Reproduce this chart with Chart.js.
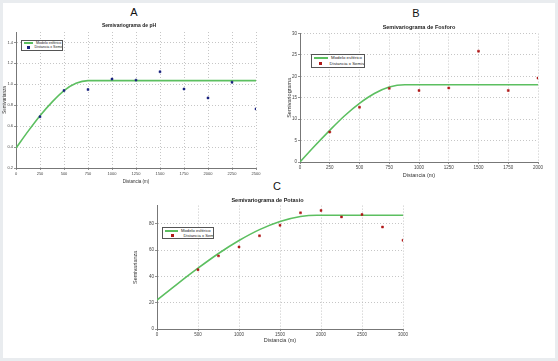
<!DOCTYPE html>
<html><head><meta charset="utf-8">
<script src="https://cdn.jsdelivr.net/npm/chart.js@4.4.1/dist/chart.umd.min.js"></script>
<style>
html,body{margin:0;padding:0;}
body{width:558px;height:361px;background:#e9ecef;position:relative;overflow:hidden;font-family:"Liberation Sans",Arial,sans-serif;}
#paper{position:absolute;left:3px;top:3px;width:552px;height:355px;background:#fff;}
canvas{position:absolute;}
.letter{position:absolute;font-size:11px;color:#111;transform:translateX(-50%);}
.leg{position:absolute;border:1px solid #555;background:#fff;color:#222;box-sizing:border-box;padding:0 2px;overflow:hidden;}
.leg div{display:flex;align-items:center;white-space:nowrap;}
.leg .ln{display:inline-block;flex-shrink:0;height:2px;background:#5cbf60;margin-right:3px;}
.leg .pt{display:inline-block;flex-shrink:0;width:2.5px;height:2.5px;}
</style></head>
<body>
<div id="paper"></div>
<div class="letter" style="left:134px;top:6px">A</div>
<div class="letter" style="left:416px;top:7px">B</div>
<div class="letter" style="left:277px;top:180px">C</div>
<canvas id="cA" width="265" height="165" style="left:0;top:20px"></canvas>
<canvas id="cB" width="280" height="160" style="left:272px;top:20px"></canvas>
<canvas id="cC" width="290" height="150" style="left:128px;top:195px"></canvas>
<div class="leg" style="left:21px;top:40px;width:42px;height:11px;font-size:3.6px;line-height:4.4px">
 <div><span class="ln" style="width:9px"></span>Modelo esférico</div>
 <div><span class="pt" style="background:#1a237e;margin:0 5px 0 3px"></span>Distancia x Semiv.</div>
</div>
<div class="leg" style="left:311px;top:54px;width:54px;height:14px;font-size:4.4px;line-height:5.8px">
 <div><span class="ln" style="width:14px"></span>Modelo esférico</div>
 <div><span class="pt" style="background:#b01818;margin:0 8px 0 5px"></span>Distancia x Semiv.</div>
</div>
<div class="leg" style="left:162px;top:227px;width:52px;height:12px;font-size:4.2px;line-height:5px">
 <div><span class="ln" style="width:13px"></span>Modelo esférico</div>
 <div><span class="pt" style="background:#b01818;margin:0 10px 0 6px"></span>Distancia x Semiv.</div>
</div>
<script>
// ---- Chart A: pH ----
const distA = [250, 500, 750, 1000, 1250, 1500, 1750, 2000, 2250, 2500];
const semivA = [0.69, 0.94, 0.95, 1.05, 1.04, 1.12, 0.955, 0.87, 1.02, 0.765];
const modelXA = [0, 125, 250, 375, 500, 625, 750, 2500];
const modelYA = [0.39, 0.55, 0.70, 0.83, 0.94, 1.01, 1.035, 1.035];
const xTicksA = [0, 250, 500, 750, 1000, 1250, 1500, 1750, 2000, 2250, 2500];
const yTicksA = [0.2, 0.4, 0.6, 0.8, 1.0, 1.2, 1.4];

// ---- Chart B: Fosforo ----
const distB = [250, 500, 750, 1000, 1250, 1500, 1750, 2000];
const semivB = [7.0, 12.8, 17.2, 16.7, 17.3, 25.9, 16.7, 19.6];
const modelXB = [0, 125, 250, 375, 500, 625, 750, 880, 2000];
const modelYB = [0, 3.8, 7.4, 10.8, 13.7, 16.0, 17.5, 18.05, 18.05];
const xTicksB = [0, 250, 500, 750, 1000, 1250, 1500, 1750, 2000];
const yTicksB = [0, 5, 10, 15, 20, 25, 30];

// ---- Chart C: Potasio ----
const distC = [500, 750, 1000, 1250, 1500, 1750, 2000, 2250, 2500, 2750, 3000];
const semivC = [45.2, 55.7, 62.5, 71.0, 79.0, 88.5, 90.3, 85.4, 87.2, 77.7, 67.6];
const modelXC = [0, 250, 500, 750, 1000, 1250, 1500, 1750, 1950, 3000];
const modelYC = [22, 34.4, 46.3, 57.5, 67.4, 75.7, 81.9, 85.7, 86.7, 86.7];
const xTicksC = [0, 500, 1000, 1500, 2000, 2500, 3000];
const yTicksC = [0, 20, 40, 60, 80];

const GREEN = '#5cbf60';

function makeChart(id, cfg) {
  const pts = (xs, ys) => xs.map((x, i) => ({x: x, y: ys[i]}));
  const tickFont = {size: cfg.tickSize, family: 'Liberation Sans'};
  const gridCommon = {color: '#b8b8b8', lineWidth: 0.8, tickLength: 2, tickColor: '#777'};
  return new Chart(document.getElementById(id), {
    type: 'scatter',
    data: {
      datasets: [
        {type: 'line', data: pts(cfg.mx, cfg.my), borderColor: GREEN, borderWidth: 1.6,
         pointRadius: 0, cubicInterpolationMode: 'monotone', fill: false, order: 2},
        {data: pts(cfg.px, cfg.py), pointStyle: 'rect', pointRadius: 1.4,
         backgroundColor: cfg.ptColor, borderColor: cfg.ptColor, borderWidth: 0.5, order: 1}
      ]
    },
    options: {
      responsive: false, animation: false, devicePixelRatio: 1,
      layout: {padding: cfg.pad},
      plugins: {
        legend: {display: false}, tooltip: {enabled: false},
        title: {display: true, text: cfg.title, color: '#222', fullSize: cfg.fullTitle,
                font: {size: cfg.titleSize, weight: 'bold', family: 'Liberation Sans'},
                padding: cfg.titlePad}
      },
      scales: {
        x: {type: 'linear', min: cfg.xmin, max: cfg.xmax,
            afterBuildTicks: s => { s.ticks = cfg.xt.map(v => ({value: v})); },
            afterFit: s => { s.height = cfg.xh; },
            ticks: {font: tickFont, color: '#444', padding: 1, maxRotation: 0, autoSkip: false,
                    callback: v => String(v)},
            grid: gridCommon,
            border: {display: true, color: '#777', width: 1, dash: [1, 2]},
            title: {display: true, text: 'Distancia (m)', color: '#333',
                    font: {size: cfg.axTitleSize, family: 'Liberation Sans'}, padding: {top: 0, bottom: 0}}},
        y: {type: 'linear', min: cfg.ymin, max: cfg.ymax,
            afterBuildTicks: s => { s.ticks = cfg.yt.map(v => ({value: v})); },
            afterFit: s => { s.width = cfg.yw; },
            ticks: {font: tickFont, color: '#444', padding: 1, callback: cfg.yfmt},
            grid: gridCommon,
            border: {display: true, color: '#777', width: 1, dash: [1, 2]},
            title: {display: true, text: cfg.ytitle, color: '#333',
                    font: {size: cfg.axTitleSize, family: 'Liberation Sans'}, padding: {top: 0, bottom: 0}}}
      }
    }
  });
}

makeChart('cA', {
  title: 'Semivariograma de pH', titleSize: 5, titlePad: {top: 2, bottom: 3}, fullTitle: true,
  pad: {top: 1, right: 9, bottom: 1, left: 2}, xh: 16, yw: 14,
  tickSize: 4, axTitleSize: 4.5, ytitle: 'Semivarianza',
  xmin: 0, xmax: 2500, ymin: 0.2, ymax: 1.5, xt: xTicksA, yt: yTicksA, yfmt: v => v.toFixed(1),
  mx: modelXA, my: modelYA, px: distA, py: semivA, ptColor: '#1a237e'
});
makeChart('cB', {
  title: 'Semivariograma de Fosforo', titleSize: 5.5, titlePad: {top: 3, bottom: 3}, fullTitle: false,
  pad: {top: 1, right: 14, bottom: 1, left: 14}, xh: 17, yw: 14,
  tickSize: 4.5, axTitleSize: 5.5, ytitle: 'Semivariograma',
  xmin: 0, xmax: 2000, ymin: 0, ymax: 30, xt: xTicksB, yt: yTicksB, yfmt: v => String(v),
  mx: modelXB, my: modelYB, px: distB, py: semivB, ptColor: '#b01818'
});
makeChart('cC', {
  title: 'Semivariograma de Potasio', titleSize: 5.5, titlePad: {top: 1, bottom: 2}, fullTitle: true,
  pad: {top: 1, right: 15, bottom: 1, left: 4}, xh: 15, yw: 25,
  tickSize: 4.5, axTitleSize: 5.5, ytitle: 'Semivarianza',
  xmin: 0, xmax: 3000, ymin: 0, ymax: 94, xt: xTicksC, yt: yTicksC, yfmt: v => String(v),
  mx: modelXC, my: modelYC, px: distC, py: semivC, ptColor: '#b01818'
});
</script>
</body></html>
